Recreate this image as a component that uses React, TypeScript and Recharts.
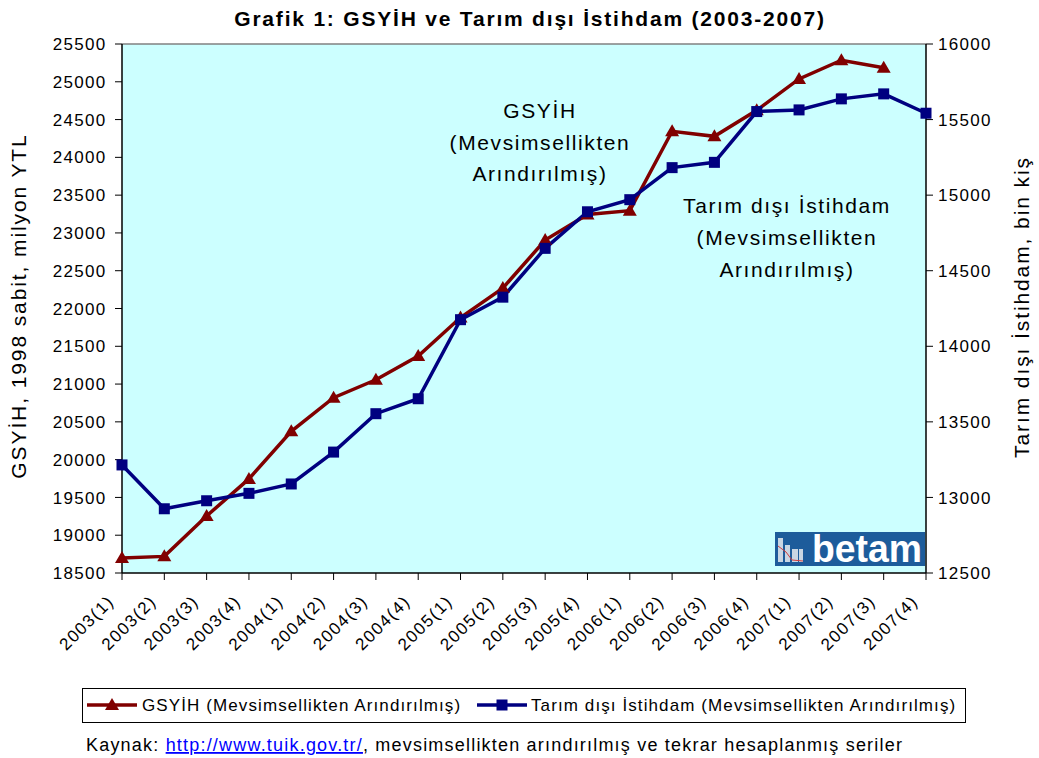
import React from 'react';
import { LineChart, Line, XAxis, YAxis, CartesianGrid, ReferenceLine } from 'recharts';

const FONT = '"Liberation Sans", Arial, Helvetica, sans-serif';

const periods = [
  '2003(1)', '2003(2)', '2003(3)', '2003(4)',
  '2004(1)', '2004(2)', '2004(3)', '2004(4)',
  '2005(1)', '2005(2)', '2005(3)', '2005(4)',
  '2006(1)', '2006(2)', '2006(3)', '2006(4)',
  '2007(1)', '2007(2)', '2007(3)', '2007(4)',
];

const gsyihValues: (number | null)[] = [
  18700, 18720, 19255, 19745,
  20375, 20820, 21057, 21370,
  21880, 22270, 22905, 23245,
  23295, 24345, 24278, 24622,
  25038, 25285, 25185, null,
];

const istihdamValues: number[] = [
  13215, 12925, 12978, 13027,
  13089, 13300, 13554, 13653,
  14176, 14325, 14648, 14890,
  14970, 15182, 15217, 15553,
  15564, 15637, 15670, 15542,
];

const leftTicks = [18500, 19000, 19500, 20000, 20500, 21000, 21500, 22000, 22500, 23000, 23500, 24000, 24500, 25000, 25500];
const rightTicks = [12500, 13000, 13500, 14000, 14500, 15000, 15500, 16000];

const titleText = 'Grafik 1: GSYİH ve Tarım dışı İstihdam (2003-2007)';
const leftAxisTitle = 'GSYİH, 1998 sabit, milyon YTL';
const rightAxisTitle = 'Tarım dışı İstihdam, bin kiş';
const gsyihName = 'GSYİH (Mevsimsellikten Arındırılmış)';
const istihdamName = 'Tarım dışı İstihdam (Mevsimsellikten Arındırılmış)';
const gsyihNote = ['GSYİH', '(Mevsimsellikten', 'Arındırılmış)'];
const istihdamNote = ['Tarım dışı İstihdam', '(Mevsimsellikten', 'Arındırılmış)'];
const sourcePrefix = 'Kaynak: ';
const sourceLink = 'http://www.tuik.gov.tr/';
const sourceSuffix = ', mevsimsellikten arındırılmış ve tekrar hesaplanmış seriler';
const logoText = 'betam';

const RED = '#800000';
const BLUE = '#000080';

const data = periods.map((p, i) => ({ period: p, gsyih: gsyihValues[i], istihdam: istihdamValues[i] }));

const TriangleDot = (props: any) => {
  const { cx, cy, index } = props;
  if (cx == null || cy == null || isNaN(cy) || props.value == null) return <g key={`t${index}`} />;
  return (
    <polygon
      key={`t${index}`}
      points={`${cx},${cy - 7} ${cx - 7},${cy + 5} ${cx + 7},${cy + 5}`}
      fill={RED}
    />
  );
};

const SquareDot = (props: any) => {
  const { cx, cy, index } = props;
  if (cx == null || cy == null || isNaN(cy)) return <g key={`s${index}`} />;
  return <rect key={`s${index}`} x={cx - 5.5} y={cy - 5.5} width={11} height={11} fill={BLUE} />;
};

const XTick = (props: any) => {
  const { x, y, payload } = props;
  const ax = x - 7;
  const ay = y + 20.5;
  return (
    <text
      x={ax}
      y={ay}
      transform={`rotate(-45, ${ax}, ${ay})`}
      textAnchor="end"
      fontFamily={FONT}
      fontSize={17}
      letterSpacing={1.5}
      fill="#000"
    >
      {payload.value}
    </text>
  );
};

const LeftTick = (props: any) => {
  const { x, y, payload } = props;
  return (
    <text x={x} y={y} dy="0.36em" textAnchor="end" fontFamily={FONT} fontSize={17} letterSpacing={1.3} fill="#000">
      {payload.value}
    </text>
  );
};

const RightTick = (props: any) => {
  const { x, y, payload } = props;
  return (
    <text x={x} y={y} dy="0.36em" textAnchor="start" fontFamily={FONT} fontSize={17} letterSpacing={1.3} fill="#000">
      {payload.value}
    </text>
  );
};

export default function App() {
  const W = 1039;
  const H = 758;
  return (
    <div style={{ position: 'absolute', left: 0, top: 0, width: W, height: H, background: '#fff' }}>
      <LineChart width={W} height={H} data={data} margin={{ top: 44, right: 0, bottom: 0, left: 0 }}>
        <CartesianGrid yAxisId="left" horizontal={false} vertical={false} fill="#CCFFFF" stroke="none" />
        <XAxis
          dataKey="period"
          interval={0}
          height={185}
          tickSize={7}
          tickMargin={2}
          tick={<XTick />}
          axisLine={{ stroke: '#000', strokeWidth: 1.5 }}
          tickLine={{ stroke: '#000', strokeWidth: 1 }}
        />
        <YAxis
          yAxisId="left"
          width={122}
          domain={[18500, 25500]}
          ticks={leftTicks}
          interval={0}
          tickSize={7}
          tickMargin={8.5}
          tick={<LeftTick />}
          axisLine={{ stroke: '#000', strokeWidth: 1.5 }}
          tickLine={{ stroke: '#000', strokeWidth: 1 }}
          allowDataOverflow
        />
        <YAxis
          yAxisId="right"
          orientation="right"
          width={113}
          domain={[12500, 16000]}
          ticks={rightTicks}
          interval={0}
          tickSize={7}
          tickMargin={5}
          tick={<RightTick />}
          axisLine={{ stroke: '#000', strokeWidth: 1.5 }}
          tickLine={{ stroke: '#000', strokeWidth: 1 }}
          allowDataOverflow
        />
        <ReferenceLine yAxisId="left" y={25500} stroke="#808080" strokeWidth={1.5} />
        <Line
          yAxisId="left"
          type="linear"
          dataKey="gsyih"
          name={gsyihName}
          stroke={RED}
          strokeWidth={3.5}
          dot={TriangleDot}
          activeDot={false}
          isAnimationActive={false}
        />
        <Line
          yAxisId="right"
          type="linear"
          dataKey="istihdam"
          name={istihdamName}
          stroke={BLUE}
          strokeWidth={3.5}
          dot={SquareDot}
          activeDot={false}
          isAnimationActive={false}
        />
      </LineChart>
      <svg
        width={W}
        height={H}
        style={{ position: 'absolute', left: 0, top: 0, pointerEvents: 'none' }}
        fontFamily={FONT}
      >
        <text x={530} y={26} textAnchor="middle" fontSize={21} fontWeight="bold" letterSpacing={1.8} fill="#000">
          {titleText}
        </text>
        <text
          x={26}
          y={306}
          transform="rotate(-90, 26, 306)"
          textAnchor="middle"
          fontSize={21}
          letterSpacing={1.9}
          fill="#000"
        >
          {leftAxisTitle}
        </text>
        <text
          x={1029}
          y={307}
          transform="rotate(-90, 1029, 307)"
          textAnchor="middle"
          fontSize={21}
          letterSpacing={1.9}
          fill="#000"
        >
          {rightAxisTitle}
        </text>
        {gsyihNote.map((t, i) => (
          <text key={`g${i}`} x={540} y={118 + i * 31.5} textAnchor="middle" fontSize={21} letterSpacing={1.6} fill="#000">
            {t}
          </text>
        ))}
        {istihdamNote.map((t, i) => (
          <text key={`s${i}`} x={787} y={213 + i * 32} textAnchor="middle" fontSize={21} letterSpacing={1.6} fill="#000">
            {t}
          </text>
        ))}
        {/* logo */}
        <rect x={775} y={532} width={150} height={34} fill="#1D5C9B" />
        <rect x={778} y={538} width={5} height={24} fill="#C9D6E3" />
        <rect x={785} y={545} width={5} height={17} fill="#C9D6E3" />
        <rect x={792} y={549} width={6} height={13} fill="#C9D6E3" />
        <rect x={799} y={549} width={4} height={13} fill="#C9D6E3" />
        <polyline points="778,546 786,552 792,560 803,561" fill="none" stroke="#D04040" strokeWidth={1} />
        <text x={922} y={562} textAnchor="end" fontSize={38} fontWeight="bold" fill="#fff" textLength={110} lengthAdjust="spacingAndGlyphs">
          {logoText}
        </text>
        {/* legend */}
        <rect x={82.5} y={688.5} width={883} height={34} fill="#fff" stroke="#000" strokeWidth={1} />
        <line x1={87} y1={705} x2={137} y2={705} stroke={RED} strokeWidth={3.5} />
        <polygon points="112,698 105,710 119,710" fill={RED} />
        <text x={142} y={711} fontSize={17} letterSpacing={1.1} fill="#000">
          {gsyihName}
        </text>
        <line x1={477} y1={705} x2={527} y2={705} stroke={BLUE} strokeWidth={3.5} />
        <rect x={496.5} y={699.5} width={11} height={11} fill={BLUE} />
        <text x={531} y={711} fontSize={17} letterSpacing={1.1} fill="#000">
          {istihdamName}
        </text>
        {/* source */}
        <text x={86} y={751} fontSize={18} letterSpacing={1.2} fill="#000">
          {sourcePrefix}
          <tspan fill="#0000FF" style={{ textDecoration: 'underline' }}>{sourceLink}</tspan>
          {sourceSuffix}
        </text>
      </svg>
    </div>
  );
}
